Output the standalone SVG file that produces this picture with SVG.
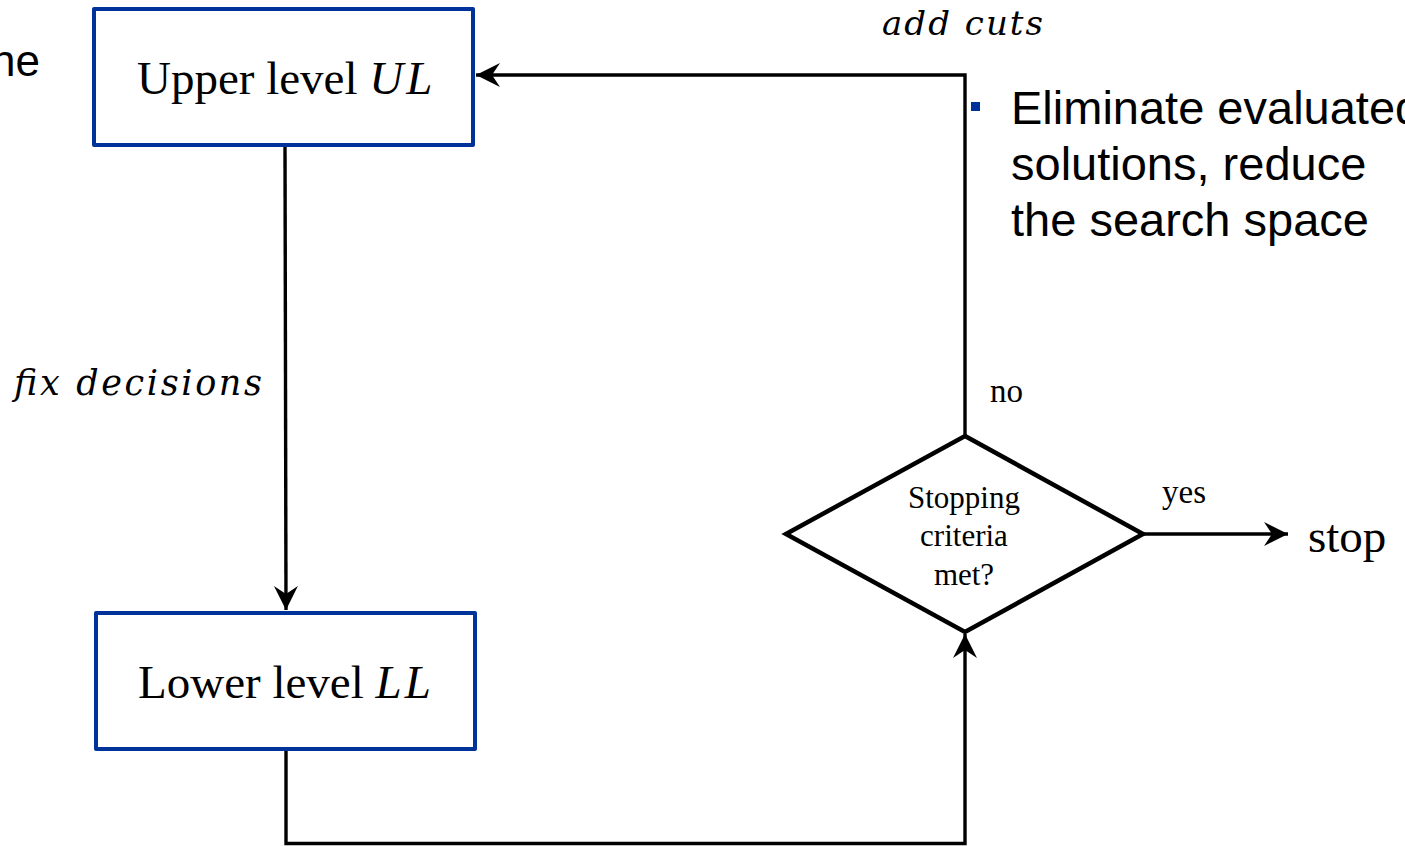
<svg xmlns="http://www.w3.org/2000/svg" width="1405" height="846" viewBox="0 0 1405 846">
  <style>
    .box { fill: #ffffff; stroke: #003399; stroke-width: 4; stroke-linejoin: round; }
    .dec { fill: #ffffff; stroke: #000000; stroke-width: 4.5; stroke-linejoin: miter; }
    .link { fill: none; stroke: #000000; stroke-width: 3.4; }
    .serif { font-family: "Liberation Serif", "Times New Roman", serif; fill: #000000; }
    .math { font-family: "Liberation Serif", "Times New Roman", serif; font-style: italic; fill: #000000; }
    .label { font-family: "DejaVu Serif", "Liberation Serif", serif; font-style: italic; fill: #000000; }
    .sans { font-family: "Liberation Sans", Arial, sans-serif; fill: #000000; }
  </style>
  <defs>
    <marker id="arrow" markerUnits="userSpaceOnUse" markerWidth="26" markerHeight="26" refX="24" refY="12" orient="auto" viewBox="0 0 26 26">
      <path d="M0,0 L24,12 L0,24 L8,12 z" fill="#000000"/>
    </marker>
  </defs>

  <rect width="1405" height="846" fill="#ffffff"/>

  <!-- fragment of slide text on the left edge -->
  <text class="sans" x="40" y="76" font-size="44" text-anchor="end">ne</text>

  <!-- bullet note -->
  <g id="note">
    <rect x="971" y="102" width="9" height="9" fill="#003399"/>
    <text class="sans" x="1011" y="124" font-size="47">Eliminate evaluated</text>
    <text class="sans" x="1011" y="180" font-size="47">solutions, reduce</text>
    <text class="sans" x="1011" y="236" font-size="47">the search space</text>
  </g>

  <!-- connectors -->
  <g id="connectors">
    <path class="link" d="M285,146 L286,610" marker-end="url(#arrow)"/>
    <path class="link" d="M286,750 L286,843.5 L965,843.5 L965,634" marker-end="url(#arrow)"/>
    <path class="link" d="M965,436 L965,75 L476,75" marker-end="url(#arrow)"/>
    <path class="link" d="M1143,534 L1288,534" marker-end="url(#arrow)"/>
    <text class="label" x="882" y="35" font-size="34" textLength="161" lengthAdjust="spacing">add cuts</text>
    <text class="label" x="14" y="395" font-size="35" textLength="248" lengthAdjust="spacing">fix decisions</text>
    <text class="serif" x="990" y="402" font-size="33">no</text>
    <text class="serif" x="1162" y="503" font-size="33">yes</text>
    <text class="serif" x="1308" y="552" font-size="47">stop</text>
  </g>

  <!-- upper level node -->
  <g id="upper">
    <rect class="box" x="94" y="9" width="379" height="136"/>
    <text class="serif" x="137" y="94" font-size="47">Upper level <tspan class="math" letter-spacing="3">UL</tspan></text>
  </g>

  <!-- lower level node -->
  <g id="lower">
    <rect class="box" x="96" y="613" width="379" height="136"/>
    <text class="serif" x="138" y="698" font-size="47">Lower level <tspan class="math" letter-spacing="3">LL</tspan></text>
  </g>

  <!-- stopping decision -->
  <g id="decision">
    <polygon class="dec" points="965,436 1143,534 965,632 786,534"/>
    <text class="serif" x="964" y="508" font-size="31" text-anchor="middle">Stopping</text>
    <text class="serif" x="964" y="546" font-size="31" text-anchor="middle">criteria</text>
    <text class="serif" x="964" y="585" font-size="31" text-anchor="middle">met?</text>
  </g>
</svg>
